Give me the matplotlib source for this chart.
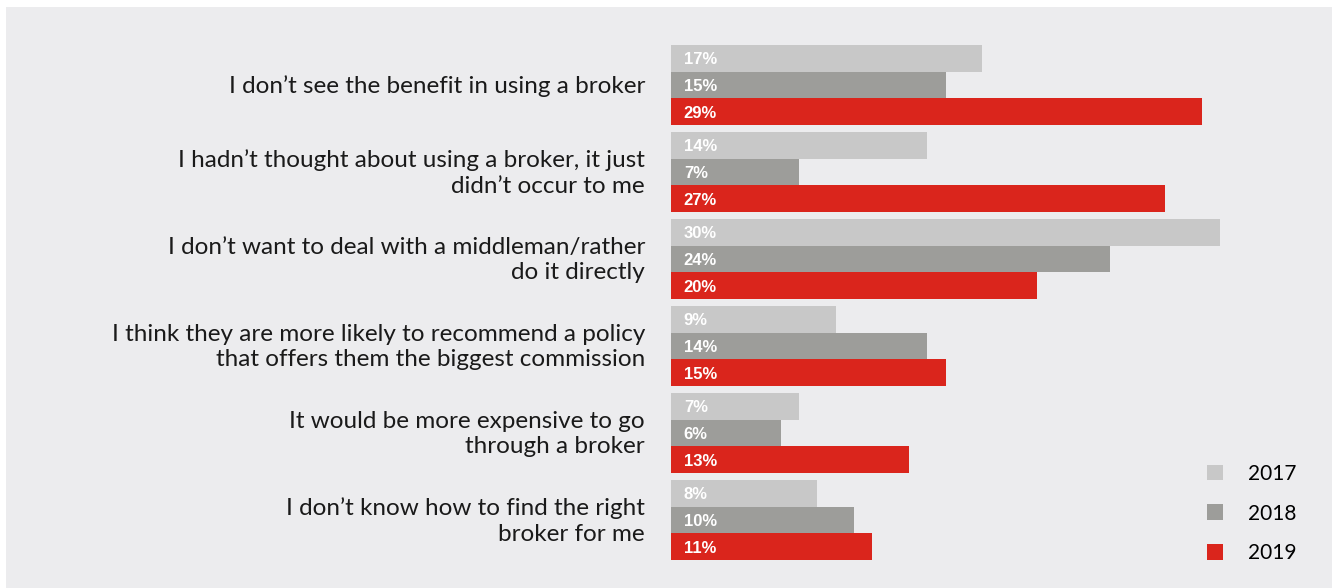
import matplotlib.pyplot as plt
from matplotlib.patches import Patch, Rectangle

# Reasons for not using a broker, share of respondents per survey year
reasons = [
    "I don\u2019t see the benefit in using a broker",
    "I hadn\u2019t thought about using a broker, it just\ndidn\u2019t occur to me",
    "I don\u2019t want to deal with a middleman/rather\ndo it directly",
    "I think they are more likely to recommend a policy\nthat offers them the biggest commission",
    "It would be more expensive to go\nthrough a broker",
    "I don\u2019t know how to find the right\nbroker for me",
]
years = ["2017", "2018", "2019"]
pct_2017 = [17, 14, 30, 9, 7, 8]
pct_2018 = [15, 7, 24, 14, 6, 10]
pct_2019 = [29, 27, 20, 15, 13, 11]

colors = ["#c8c8c8", "#9d9d9a", "#da251c"]
bg = "#ececee"

W, H = 1332, 588
fig = plt.figure(figsize=(W / 100, H / 100), dpi=100)
fig.patch.set_facecolor("white")
# grey panel behind the chart, with a thin white margin top and left
fig.add_artist(Rectangle((6 / W, 0), 1 - 6 / W, 1 - 7 / H, transform=fig.transFigure,
                         facecolor=bg, edgecolor="none", zorder=0))

ax = fig.add_axes([671 / W, (588 - 563.5) / H, 604 / W, 522 / H])
ax.set_facecolor("none")
ax.set_xlim(0, 33)
ax.set_ylim(5.5, -0.5)
ax.axis("off")

bar_h = 0.31
series = [pct_2017, pct_2018, pct_2019]
for k, (vals, col) in enumerate(zip(series, colors)):
    offset = (k - 1) * bar_h
    for i, v in enumerate(vals):
        y = i + offset
        ax.barh(y, v, height=bar_h, color=col, linewidth=0)
        ax.text(0.7, y + 0.02, f"{v}%", color="white", fontsize=12, fontweight="bold",
                family="Liberation Sans", va="center", ha="left")

# category labels to the left of the bars
for i, r in enumerate(reasons):
    fig.text(645 / W, 1 - (86 + i * 87) / H, r, ha="right", va="center",
             fontsize=17.5, family="Lato", color="#1a1a1a", linespacing=1.27)

handles = [Patch(facecolor=c, edgecolor="none") for c in colors]
fig.legend(handles, years, loc="upper left", bbox_to_anchor=(1188 / W, 1 - 445 / H),
           frameon=False, handlelength=0.8, handleheight=0.8,
           labelspacing=0.95, handletextpad=1.2,
           prop={"family": "Lato", "size": 15})

fig.savefig("out.png", dpi=100, facecolor="white")
